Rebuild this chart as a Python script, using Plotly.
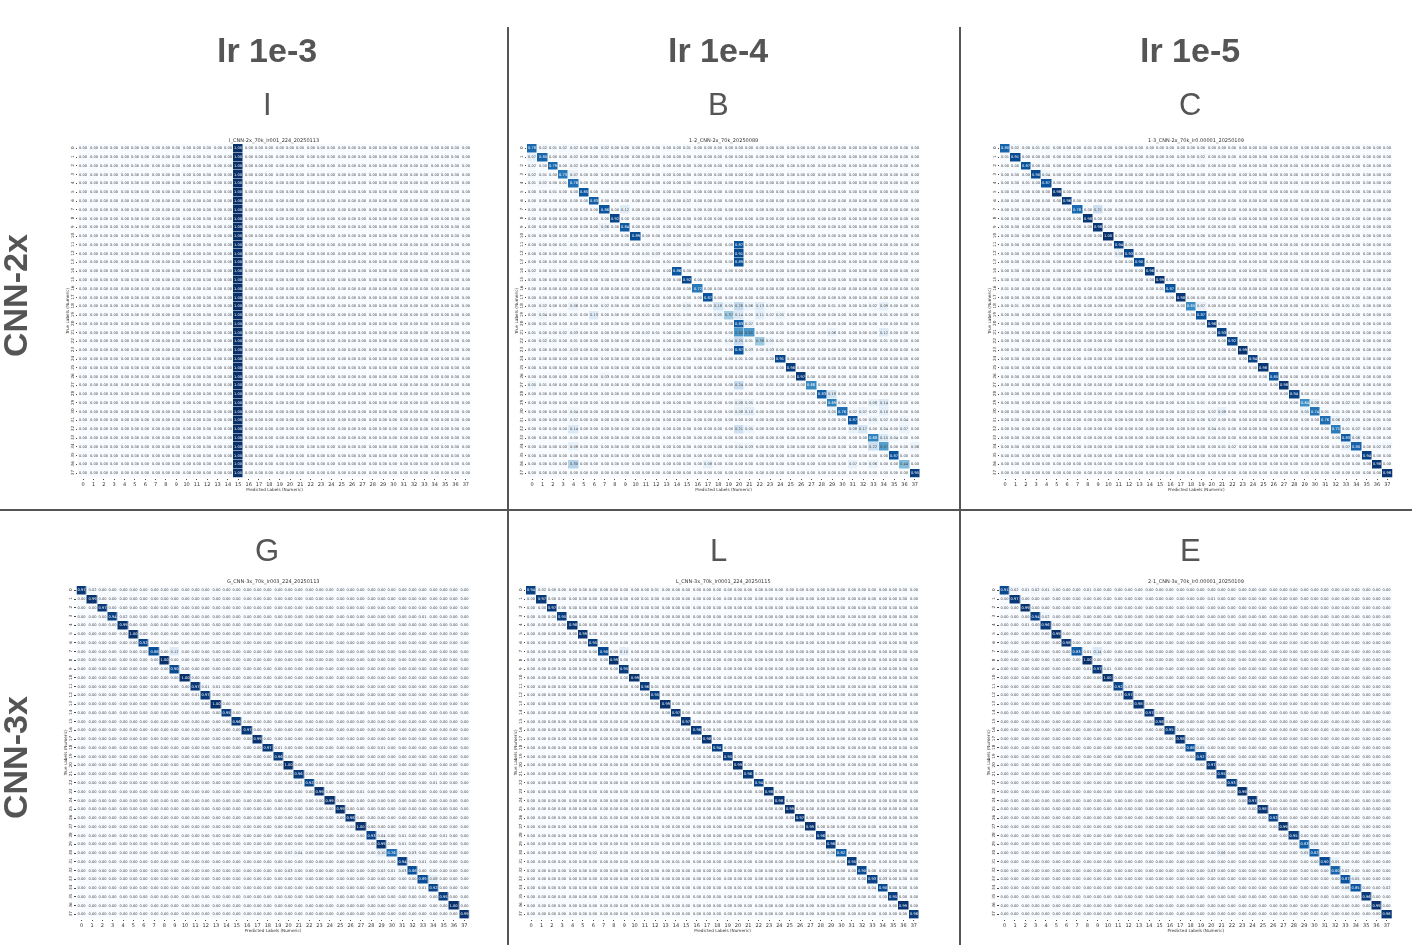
import plotly.graph_objects as go

W, H = 1412, 945
LABELS = list(range(38))

# ---- Panel I: every sample predicted as class 15
I_COL15 = [1.00] * 38

# ---- diagonals (row i, column i)
B_DIAG = [.78,.80,.79,.73,.76,.85,.83,.86,.92,.84,.89,.02,.03,.01,.86,.92,.72,.87,.18,.37,.83,.60,.38,.03,.91,.96,.97,.66,.83,.69,.76,.87,.17,.68,.57,.87,.44,.95]
C_DIAG = [.80,.91,.87,.90,.87,.98,.96,.78,.98,.98,1.00,.94,.93,.90,.96,.99,.87,.98,.65,.87,.96,.93,.92,.99,.94,.98,.85,.98,.94,.64,.74,.76,.71,.83,.80,.94,.98,.98]
G_DIAG = [.97,.99,.97,.94,.99,1.00,.92,.88,1.00,.90,1.00,.97,.97,1.00,.95,.96,.97,.99,.97,.96,1.00,.96,.92,.99,.99,.99,.98,1.00,.93,.99,.76,.94,.88,.89,.92,.95,1.00,.99]
L_DIAG = [.94,.97,.97,.95,.98,.99,.95,.90,.99,.95,.99,.96,.95,.99,.97,.97,.96,.98,.94,.95,.99,.96,.94,.98,.98,.99,.97,.99,.96,.96,.82,.95,.90,.93,.90,.95,.99,.96]
E_DIAG = [.91,.97,.99,.94,.96,.99,.98,.83,1.00,.97,1.00,.92,.97,.98,.97,.98,.95,.98,.88,.92,.97,.95,.93,.99,.97,.98,.92,.99,.95,.83,.82,.90,.80,.87,.85,.96,.99,.98]

# ---- off-diagonal cells: (row, column, value)
B_OFF = [(0,1,.02),(0,2,.01),(0,3,.02),(0,4,.02),(0,7,.02),(0,15,.01),(1,0,.07),(1,4,.02),(1,7,.01),(2,0,.02),(2,4,.02),(2,7,.01),
 (3,0,.02),(3,1,.01),(3,4,.07),(4,0,.01),(4,1,.02),(4,3,.01),(5,2,.01),(6,15,.02),(7,9,.12),(9,7,.06),(11,20,.87),(11,3,.01),(11,4,.01),(11,15,.02),
 (12,20,.91),(13,20,.89),(12,11,.01),(13,4,.01),(14,0,.02),(14,2,.01),(14,7,.01),(18,1,.02),(18,4,.06),(18,7,.02),(18,11,.02),(18,12,.01),(18,15,.05),(18,19,.05),(18,20,.26),(18,21,.06),(18,22,.13),(18,23,.03),(18,29,.01),(18,33,.02),(18,34,.09),
 (19,1,.04),(19,3,.01),(19,4,.01),(19,6,.13),(19,11,.01),(19,14,.01),(19,18,.05),(19,20,.14),(19,22,.11),(19,23,.02),(19,24,.05),(19,34,.01),
 (20,1,.01),(20,21,.07),(20,24,.01),(21,0,.01),(21,3,.02),(21,4,.03),(21,11,.02),(21,12,.01),(21,15,.01),(21,20,.60),(21,29,.06),(21,34,.12),
 (22,1,.02),(22,2,.01),(22,4,.01),(22,18,.01),(22,19,.04),(22,20,.25),(22,21,.01),(22,23,.05),(22,24,.01),(22,34,.01),(23,4,.03),(23,20,.87),(23,21,.03),
 (24,20,.01),(27,0,.05),(27,1,.01),(27,20,.24),(27,22,.01),(27,23,.01),(26,7,.03),(28,29,.18),(29,20,.08),(29,21,.05),(29,30,.04),(29,33,.08),(29,34,.14),
 (30,4,.04),(30,20,.08),(30,21,.10),(30,29,.05),(30,31,.02),(30,32,.07),(30,33,.02),(30,34,.10),(31,4,.02),(31,33,.05),(31,34,.02),(31,36,.04),
 (32,4,.14),(32,20,.21),(32,21,.05),(32,31,.08),(32,34,.04),(32,36,.07),(33,34,.15),(33,35,.04),(34,4,.08),(34,20,.04),(34,21,.03),(34,33,.22),(34,37,.06),
 (36,4,.30),(36,17,.08),(36,31,.07),(36,33,.06)]
C_OFF = [(0,1,.02),(0,3,.01),(0,4,.01),(0,8,.01),(1,0,.01),(1,19,.02),(3,4,.04),(4,2,.01),(7,9,.21),(11,12,.05),(11,22,.01),(12,11,.08),(15,25,.01),(16,0,.01),(16,15,.01),(18,1,.01),(18,6,.01),
 (18,19,.07),(18,31,.01),(18,33,.01),(18,34,.01),(19,24,.03),(22,23,.01),(22,24,.01),(29,18,.01),(29,19,.01),(29,30,.08),(29,33,.02),(29,34,.01),(30,18,.02),(30,20,.02),(30,21,.08),(30,26,.01),(30,29,.05),(30,31,.01),(30,32,.01),
 (31,20,.02),(31,32,.06),(31,33,.03),(31,36,.01),(32,20,.04),(32,21,.01),(32,33,.01),(32,34,.02),(32,36,.03),(33,34,.06),(34,21,.01),(34,22,.02),(34,33,.07),(34,36,.02),(34,37,.03)]
G_OFF = [(0,1,.02),(3,4,.02),(3,33,.01),(7,9,.12),(11,12,.01),(11,13,.01),(12,11,.01),(18,19,.01),(18,29,.01),(21,29,.02),(21,34,.01),(22,21,.02),(22,23,.01),(22,34,.01),(23,27,.01),
 (28,29,.04),(28,31,.01),(28,35,.01),(29,31,.01),(30,20,.02),(30,21,.04),(30,29,.10),(30,32,.03),(31,29,.01),(31,32,.02),(31,33,.01),(32,20,.03),(32,29,.02),(32,30,.01),(32,31,.03),(33,34,.08),(34,32,.01),(34,33,.01)]
L_OFF = [(0,1,.02),(0,12,.01),(1,11,.01),(7,9,.10),(11,12,.01),(12,26,.01),(26,7,.01),(29,18,.01),(30,6,.02),(30,21,.03),(30,29,.06),(33,34,.03),(34,33,.04),(34,20,.01),(31,14,.01),(24,25,.01)]
E_OFF = [(0,1,.02),(0,2,.01),(0,3,.02),(0,4,.01),(0,8,.01),(1,20,.01),(3,4,.02),(4,2,.01),(7,8,.01),(7,9,.14),(9,8,.01),(9,10,.01),(11,12,.03),(12,11,.03),
 (18,19,.05),(29,30,.06),(29,33,.02),(30,21,.06),(30,29,.05),(31,32,.05),(32,20,.03),(32,33,.02),(33,34,.05),(34,33,.06),(34,37,.02)]

TITLES = ["I_CNN-2x_70k_lr001_224_20250113", "1-2_CNN-2x_70k_20250089", "1-3_CNN-2x_70k_lr0.00001_20250109",
          "G_CNN-3x_70k_lr003_224_20250113", "L_CNN-3x_70k_lr0001_224_20250115", "2-1_CNN-3x_70k_lr0.00001_20250109"]
LETTERS = ["I", "B", "C", "G", "L", "E"]
COLUMN_HEADS = ["lr 1e-3", "lr 1e-4", "lr 1e-5"]
ROW_HEADS = ["CNN-2x", "CNN-3x"]
BLUES = [[0,"#f7fbff"],[.125,"#deebf7"],[.25,"#c6dbef"],[.375,"#9ecae1"],[.5,"#6baed6"],[.625,"#4292c6"],[.75,"#2171b5"],[.875,"#08519c"],[1,"#08306b"]]


def matrix(diag, off):
    z = [[0.0] * 38 for _ in LABELS]
    for i, v in enumerate(diag):
        z[i][i] = v
    for r, c, v in off:
        z[r][c] = v
    return z


z_i = [[0.0] * 38 for _ in LABELS]
for i, v in enumerate(I_COL15):
    z_i[i][15] = v
MATS = [z_i, matrix(B_DIAG, B_OFF), matrix(C_DIAG, C_OFF), matrix(G_DIAG, G_OFF), matrix(L_DIAG, L_OFF), matrix(E_DIAG, E_OFF)]

# pixel boxes of the six heat maps: left, right, top, bottom
BOXES = [(78, 471, 144, 477.5), (527, 920, 144, 477.5), (1000, 1392.5, 144, 477.5),
         (76.5, 469.5, 586, 918.7), (526, 919, 586, 918.7), (999.5, 1392, 586, 918.7)]
TITLE_X = [274, 723, 1196, 273, 723, 1196]
LETTER_X = [267, 718, 1190, 267, 718, 1190]
HEAD_X = [267, 718, 1190]
GREY = "#555555"
XTICK = dict(family="DejaVu Sans", size=5, color="#333333")
YTICK = dict(family="DejaVu Sans", size=4.2, color="#333333")

fig = go.Figure()
layout = dict(width=W, height=H, margin=dict(l=0, r=0, t=0, b=0), paper_bgcolor="white", plot_bgcolor="white", showlegend=False)
ann = []
for k, (z, box) in enumerate(zip(MATS, BOXES)):
    s = "" if k == 0 else str(k + 1)
    l, r, t, b = box
    fig.add_trace(go.Heatmap(z=z, x=LABELS, y=LABELS, xaxis="x" + s, yaxis="y" + s, colorscale=BLUES, zmin=0, zmax=1,
                             showscale=False, xgap=0.5, ygap=0.5, texttemplate="%{z:.2f}",
                             textfont=dict(family="DejaVu Sans", size=3.6), hoverinfo="skip"))
    layout["xaxis" + s] = dict(domain=[l / W, r / W], anchor="y" + s, tickmode="array", tickvals=LABELS, ticktext=[str(v) for v in LABELS],
                               tickfont=XTICK, ticks="outside", ticklen=1.5, tickwidth=0.5, tickcolor="#444", showgrid=False, zeroline=False,
                               showline=False, tickangle=0, automargin=False,
                               title=dict(text="Predicted Labels (Numeric)", font=dict(family="DejaVu Sans", size=4.2, color="#333"), standoff=0))
    layout["yaxis" + s] = dict(domain=[1 - b / H, 1 - t / H], anchor="x" + s, autorange="reversed", tickmode="array", tickvals=LABELS, ticktext=[str(v) for v in LABELS],
                               tickfont=YTICK, ticks="outside", ticklen=1.5, tickwidth=0.5, tickcolor="#444", showgrid=False, zeroline=False,
                               showline=False, tickangle=-90, automargin=False,
                               title=dict(text="True Labels (Numeric)", font=dict(family="DejaVu Sans", size=4.2, color="#333"), standoff=0))
    ann.append(dict(text=TITLES[k], x=TITLE_X[k] / W, y=1 - (140 if k < 3 else 581) / H, xref="paper", yref="paper", showarrow=False, xanchor="center", yanchor="middle",
                    font=dict(family="DejaVu Sans", size=5, color="#333")))
    ann.append(dict(text=LETTERS[k], x=LETTER_X[k] / W, y=1 - (104 if k < 3 else 550) / H, xref="paper", yref="paper", showarrow=False, xanchor="center", yanchor="middle",
                    font=dict(family="Liberation Sans", size=31, color=GREY)))
for hx, txt in zip(HEAD_X, COLUMN_HEADS):
    ann.append(dict(text="<b>%s</b>" % txt, x=hx / W, y=1 - 50 / H, xref="paper", yref="paper", showarrow=False, xanchor="center", yanchor="middle",
                    font=dict(family="Liberation Sans", size=34, color=GREY)))
for yy, txt in zip((296, 758), ROW_HEADS):
    ann.append(dict(text="<b>%s</b>" % txt, x=15 / W, y=1 - yy / H, xref="paper", yref="paper", showarrow=False, xanchor="center", yanchor="middle", textangle=-90,
                    font=dict(family="Liberation Sans", size=34, color=GREY)))
layout["annotations"] = ann


def pline(x0, y0, x1, y1):
    return dict(type="line", xref="paper", yref="paper", x0=x0 / W, x1=x1 / W, y0=1 - y0 / H, y1=1 - y1 / H, line=dict(color="#555", width=2))


layout["shapes"] = [pline(508, 27, 508, 945), pline(960, 27, 960, 945), pline(0, 510, 1412, 510)]
fig.update_layout(**layout)
fig.write_html("out.html", config=dict(displayModeBar=False),
               post_script="document.body.style.margin='0';document.body.style.overflow='hidden';document.body.style.filter='blur(0.35px)';")
